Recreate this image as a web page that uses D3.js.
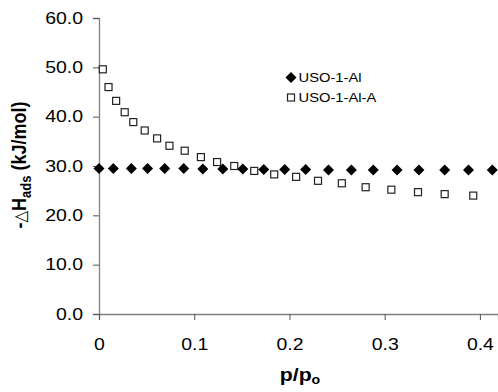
<!DOCTYPE html>
<meta charset="utf-8">
<style>
    body { margin: 0; background: #fff; }
    text { font-family: "Liberation Sans", Arial, sans-serif; fill: #000; }
</style>
<body>
<script src="https://d3js.org/d3.v7.min.js"></script>
<script>

var width = 498,
    height = 392;

// USO-1-Al (filled diamonds)
var alX = [0, 0.015, 0.034, 0.051, 0.069, 0.089, 0.109, 0.130, 0.151, 0.173,
           0.195, 0.217, 0.241, 0.265, 0.288, 0.313, 0.336, 0.363, 0.388, 0.413];
var alY = [29.5, 29.5, 29.5, 29.5, 29.5, 29.5, 29.4, 29.4, 29.4, 29.3,
           29.3, 29.3, 29.2, 29.2, 29.2, 29.2, 29.2, 29.2, 29.2, 29.2];

// USO-1-Al-A (open squares)
var alaX = [0.004, 0.010, 0.018, 0.027, 0.036, 0.048, 0.061, 0.074, 0.090, 0.107, 0.124,
            0.142, 0.163, 0.184, 0.207, 0.230, 0.255, 0.280, 0.307, 0.335, 0.363, 0.393];
var alaY = [49.6, 46.0, 43.2, 40.9, 38.9, 37.2, 35.6, 34.1, 33.1, 31.8, 30.8,
            30.0, 29.0, 28.3, 27.8, 27.0, 26.5, 25.7, 25.2, 24.7, 24.3, 24.0];

var xTicks = [0, 0.1, 0.2, 0.3, 0.4];
var yTicks = [0, 10, 20, 30, 40, 50, 60];
var seriesNames = ["USO-1-Al", "USO-1-Al-A"];

var x = d3.scaleLinear().domain([0, 0.419]).range([99, 498]);
var y = d3.scaleLinear().domain([0, 60]).range([314, 18]);

// the original text is drawn a bit wide
var stretch = "scale(1.18,1)";

var svg = d3.select("body").append("svg")
    .attr("width", width)
    .attr("height", height);

// axes
var yAxis = svg.append("g")
    .attr("transform", "translate(" + x(0) + ",0)")
    .call(d3.axisLeft(y).tickValues(yTicks).tickSize(6).tickPadding(7.5)
        .tickFormat(d3.format(".1f")));
yAxis.select(".domain").attr("stroke", "#808080").attr("stroke-width", 1.3);
yAxis.selectAll(".tick line").attr("stroke", "#555");
yAxis.selectAll("text").style("font-size", "16.5px").attr("transform", stretch);

var xAxis = svg.append("g")
    .attr("transform", "translate(0," + y(0) + ")")
    .call(d3.axisBottom(x).tickValues(xTicks).tickSize(6).tickPadding(18)
        .tickFormat(function(d) { return d === 0 ? "0" : d3.format(".1f")(d); }));
xAxis.select(".domain").attr("stroke", "#808080").attr("stroke-width", 1.3);
xAxis.selectAll(".tick line").attr("stroke", "#555");
xAxis.selectAll("text").style("font-size", "16.5px").attr("transform", stretch);

// points
var diamond = "M0,-5.5L5.5,0L0,5.5L-5.5,0Z";

svg.append("g").selectAll("rect")
    .data(d3.range(alaX.length))
    .enter().append("rect")
    .attr("x", function(i) { return x(alaX[i]) - 3.5; })
    .attr("y", function(i) { return y(alaY[i]) - 3.5; })
    .attr("width", 7)
    .attr("height", 7)
    .attr("fill", "#fff")
    .attr("stroke", "#222")
    .attr("stroke-width", 1.2);

svg.append("g").selectAll("path")
    .data(d3.range(alX.length))
    .enter().append("path")
    .attr("d", diamond)
    .attr("transform", function(i) { return "translate(" + x(alX[i]) + "," + y(alY[i]) + ")"; })
    .attr("fill", "#000");

// legend
var legend = svg.append("g").attr("transform", "translate(291,77.5)");
legend.append("path").attr("d", diamond).attr("fill", "#000");
legend.append("rect")
    .attr("x", -3.5).attr("y", 16.5).attr("width", 7).attr("height", 7)
    .attr("fill", "#fff").attr("stroke", "#222").attr("stroke-width", 1.2);
legend.selectAll("text")
    .data(seriesNames)
    .enter().append("text")
    .attr("transform", function(d, i) { return "translate(7.5," + i * 20 + ") " + stretch; })
    .attr("dy", "0.36em")
    .style("font-size", "12.5px")
    .text(function(d) { return d; });

// axis titles
var yt = svg.append("text")
    .attr("transform", "translate(26,165) scale(1.15,1) rotate(-90)")
    .attr("text-anchor", "middle")
    .style("font-size", "18px")
    .style("font-weight", "bold");
yt.append("tspan").text("-");
yt.append("tspan").style("font-weight", "normal").style("font-size", "15px")
    .style("font-family", "DejaVu Sans").text("\u25B3");
yt.append("tspan").text("H");
yt.append("tspan").attr("dy", 4).style("font-size", "13px").text("ads");
yt.append("tspan").attr("dy", -4).text(" (kJ/mol)");

var xt = svg.append("text")
    .attr("transform", "translate(300,381) " + stretch)
    .attr("text-anchor", "middle")
    .style("font-size", "18px")
    .style("font-weight", "bold");
xt.append("tspan").text("p/p");
xt.append("tspan").attr("dy", 3).style("font-size", "12px").text("o");

</script>
</body>
